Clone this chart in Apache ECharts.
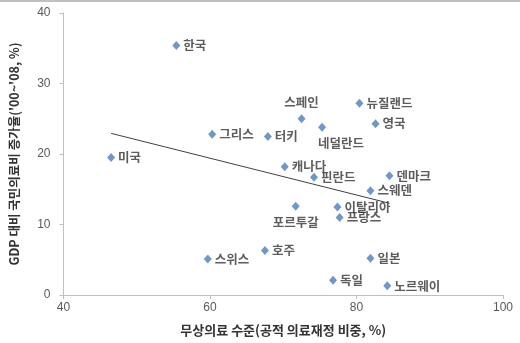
<!DOCTYPE html>
<html><head><meta charset="utf-8">
<script src="https://cdn.jsdelivr.net/npm/echarts@6/dist/echarts.min.js"></script>
<style>html,body{margin:0;padding:0;background:#fff}#c{width:520px;height:343px}</style>
</head><body><div id="c"></div>
<script>
const countries = ['한국','미국','그리스','터키','스페인','네덜란드','뉴질랜드','영국','캐나다','핀란드','덴마크','스웨덴','포르투갈','이탈리아','프랑스','호주','스위스','일본','독일','노르웨이'];
const publicShare = [55.4,46.5,60.3,67.9,72.5,75.3,80.4,82.6,70.2,74.2,84.5,81.9,71.7,77.4,77.7,67.5,59.7,81.9,76.8,84.2];
const growthRate = [35.4,19.5,22.8,22.5,25.0,23.8,27.2,24.3,18.2,16.7,16.9,14.8,12.6,12.5,11.0,6.3,5.1,5.2,2.1,1.3];
const xTicks = [40,60,80,100];
const yTicks = [0,10,20,30,40];

const labelStyle = {
  '스페인': {position:'top', distance:6},
  '네덜란드': {position:'bottom', distance:5, offset:[19,0]},
  '포르투갈': {position:'bottom', distance:5}
};

// linear regression trendline
const n = publicShare.length;
const mx = publicShare.reduce((a,b)=>a+b,0)/n;
const my = growthRate.reduce((a,b)=>a+b,0)/n;
let sxy=0,sxx=0;
for(let i=0;i<n;i++){sxy+=(publicShare[i]-mx)*(growthRate[i]-my);sxx+=(publicShare[i]-mx)**2;}
const slope=sxy/sxx, icpt=my-slope*mx;
const xmin=Math.min(...publicShare), xmax=Math.max(...publicShare);

const pts = countries.map((c,i)=>{
  const o={name:c,value:[publicShare[i],growthRate[i]]};
  if(labelStyle[c]) o.label=labelStyle[c];
  return o;
});

const chart = echarts.init(document.getElementById('c'));
const axisFont = {fontFamily:'"Liberation Sans", Arial, sans-serif', fontSize:12, color:'#595959'};
chart.setOption({
  animation:false,
  grid:{left:62,right:17,top:13,bottom:48},
  xAxis:{type:'value',min:40,max:100,interval:20,
    axisLine:{lineStyle:{color:'#bfbfbf'}},
    axisTick:{show:true,length:4,lineStyle:{color:'#bfbfbf'}},
    splitLine:{show:false},
    axisLabel:Object.assign({margin:7,formatter:v=>xTicks.includes(v)?String(v):''},axisFont),
    name:'무상의료 수준(공적 의료재정 비중, %)',nameLocation:'middle',nameGap:29,
    nameTextStyle:{fontFamily:'"Noto Sans CJK KR"',fontSize:13,fontWeight:'bold',color:'#333'}},
  yAxis:{type:'value',min:0,max:40,interval:10,
    axisLine:{show:true,lineStyle:{color:'#bfbfbf'}},
    axisTick:{show:true,length:4,lineStyle:{color:'#bfbfbf'}},
    splitLine:{show:false},
    axisLabel:Object.assign({margin:13,formatter:v=>yTicks.includes(v)?String(v):''},axisFont),
    name:"GDP 대비 국민의료비 증가율('00~'08, %)",nameLocation:'middle',nameGap:43,
    nameTextStyle:{fontFamily:'"Noto Sans CJK KR"',fontSize:12.5,fontWeight:'bold',color:'#333'}},
  graphic:[{type:'rect',shape:{x:0,y:0,width:520,height:2},style:{fill:'#c0c0c0'}}],
  series:[
    {type:'line',data:[[xmin,icpt+slope*xmin],[xmax,icpt+slope*xmax]],symbol:'none',
     lineStyle:{color:'#404040',width:1},silent:true,z:1},
    {type:'scatter',data:pts,symbol:'diamond',symbolSize:[8,9],
     itemStyle:{color:'#4a7ebb'},z:2,
     label:{show:true,position:'right',distance:3,formatter:p=>p.name,
       fontFamily:'"Noto Sans CJK KR"',fontSize:12.5,fontWeight:'bold',color:'#333'}}
  ]
});
</script></body></html>
